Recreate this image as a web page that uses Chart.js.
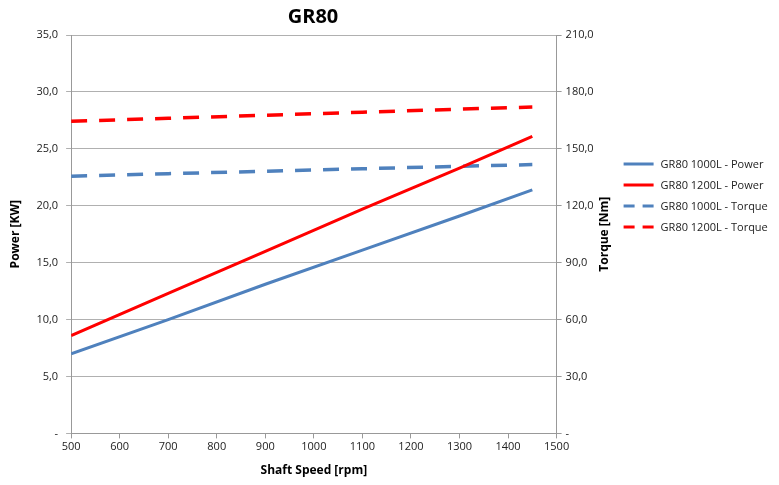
<!DOCTYPE html>
<html>
<head>
<meta charset="utf-8">
<script src="https://cdn.jsdelivr.net/npm/chart.js@4"></script>
<style>
  html, body { margin: 0; padding: 0; background: #fff; }
  #wrap { width: 779px; height: 485px; }
</style>
</head>
<body>
<div id="wrap"><canvas id="gr80Chart" width="779" height="485"></canvas></div>
<script>
const speedRpm = [500, 700, 900, 1100, 1300, 1450];
const power1000 = [7.0, 10.0, 13.1, 16.1, 19.1, 21.4];
const power1200 = [8.6, 12.3, 16.0, 19.7, 23.3, 26.1];
const torque1000 = [135.6, 136.9, 138.2, 139.5, 140.8, 141.7];
const torque1200 = [164.5, 166.1, 167.7, 169.3, 170.9, 172.0];
const seriesLabels = ['GR80 1000L - Power', 'GR80 1200L - Power', 'GR80 1000L - Torque', 'GR80 1200L - Torque'];

function toPoints(values) {
    return values.map((v, i) => ({ x: speedRpm[i], y: v }));
}

function commaLabel(v) {
    return v === 0 ? '-' : v.toFixed(1).replace('.', ',');
}

const tickFont = { family: 'Open Sans', size: 11 };
const titleFont = { family: 'Open Sans', size: 12, weight: 'bold' };

// Legenda disegnata a mano, come nel grafico Excel (con linee tratteggiate)
// + titolo asse destro ruotato dal basso verso l'alto
const sideLegend = {
    id: 'sideLegend',
    afterDraw(chart) {
        const c = chart.ctx;
        const area = chart.chartArea;
        const x0 = area.right + 67;
        let y = 164;
        c.save();
        c.font = '11px "Open Sans"';
        c.textBaseline = 'middle';
        chart.data.datasets.forEach(ds => {
            c.beginPath();
            c.strokeStyle = ds.borderColor;
            c.lineWidth = 3;
            c.setLineDash(ds.borderDash ? [11, 8] : []);
            c.moveTo(x0, y);
            c.lineTo(x0 + 30, y);
            c.stroke();
            c.setLineDash([]);
            c.fillStyle = '#222';
            c.fillText(ds.label, x0 + 37, y + 1);
            y += 21;
        });
        c.restore();

        c.save();
        c.translate(chart.scales.y1.right - 17, (area.top + area.bottom) / 2);
        c.rotate(-Math.PI / 2);
        c.font = 'bold 12px "Open Sans"';
        c.fillStyle = '#000';
        c.textAlign = 'center';
        c.textBaseline = 'middle';
        c.fillText('Torque [Nm]', 0, 0);
        c.restore();
    }
};

document.addEventListener('DOMContentLoaded', function() {
    const ctx = document.getElementById('gr80Chart').getContext('2d');
    new Chart(ctx, {
        type: 'line',
        data: {
            datasets: [{
                label: seriesLabels[0],
                data: toPoints(power1000),
                borderColor: '#4f81bd',
                backgroundColor: '#4f81bd',
                borderWidth: 3,
                yAxisID: 'y'
            }, {
                label: seriesLabels[1],
                data: toPoints(power1200),
                borderColor: '#ff0000',
                backgroundColor: '#ff0000',
                borderWidth: 3,
                yAxisID: 'y'
            }, {
                label: seriesLabels[2],
                data: toPoints(torque1000),
                borderColor: '#4f81bd',
                backgroundColor: '#4f81bd',
                borderWidth: 3.5,
                borderDash: [16, 12],
                yAxisID: 'y1'
            }, {
                label: seriesLabels[3],
                data: toPoints(torque1200),
                borderColor: '#ff0000',
                backgroundColor: '#ff0000',
                borderWidth: 3.5,
                borderDash: [16, 12],
                yAxisID: 'y1'
            }]
        },
        options: {
            responsive: false,
            animation: false,
            elements: { point: { radius: 0 }, line: { tension: 0 } },
            layout: { padding: { left: 4, right: 157, top: 0, bottom: 3 } },
            scales: {
                x: {
                    type: 'linear',
                    min: 500,
                    max: 1500,
                    ticks: { stepSize: 100, color: '#222', font: tickFont, padding: 2, callback: v => String(v) },
                    grid: { drawOnChartArea: false, tickLength: 5, color: '#999' },
                    border: { color: '#999' },
                    title: { display: true, text: 'Shaft Speed [rpm]', color: '#000', font: titleFont, padding: { top: 8 } }
                },
                y: {
                    position: 'left',
                    min: 0,
                    max: 35,
                    ticks: { stepSize: 5, color: '#222', font: tickFont, callback: commaLabel, padding: 8 },
                    grid: { color: '#b0b0b0', tickLength: 5 },
                    border: { color: '#999' },
                    title: { display: true, text: 'Power [KW]', color: '#000', font: titleFont, padding: { bottom: 6 } }
                },
                y1: {
                    position: 'right',
                    min: 0,
                    max: 210,
                    ticks: { stepSize: 30, color: '#222', font: tickFont, callback: commaLabel, padding: 4 },
                    grid: { drawOnChartArea: false, tickLength: 5, color: '#999' },
                    border: { color: '#999' },
                    // spazio riservato; il testo viene disegnato ruotato dal plugin
                    title: { display: true, text: 'Torque [Nm]', color: 'rgba(0,0,0,0)', font: titleFont, padding: { top: 6 } }
                }
            },
            plugins: {
                title: {
                    display: true,
                    text: 'GR80',
                    color: '#000',
                    font: { family: 'Open Sans', size: 20, weight: 'bold' },
                    padding: { top: 5, bottom: 6 }
                },
                legend: { display: false },
                tooltip: { enabled: false }
            }
        },
        plugins: [sideLegend]
    });
});
</script>
</body>
</html>
